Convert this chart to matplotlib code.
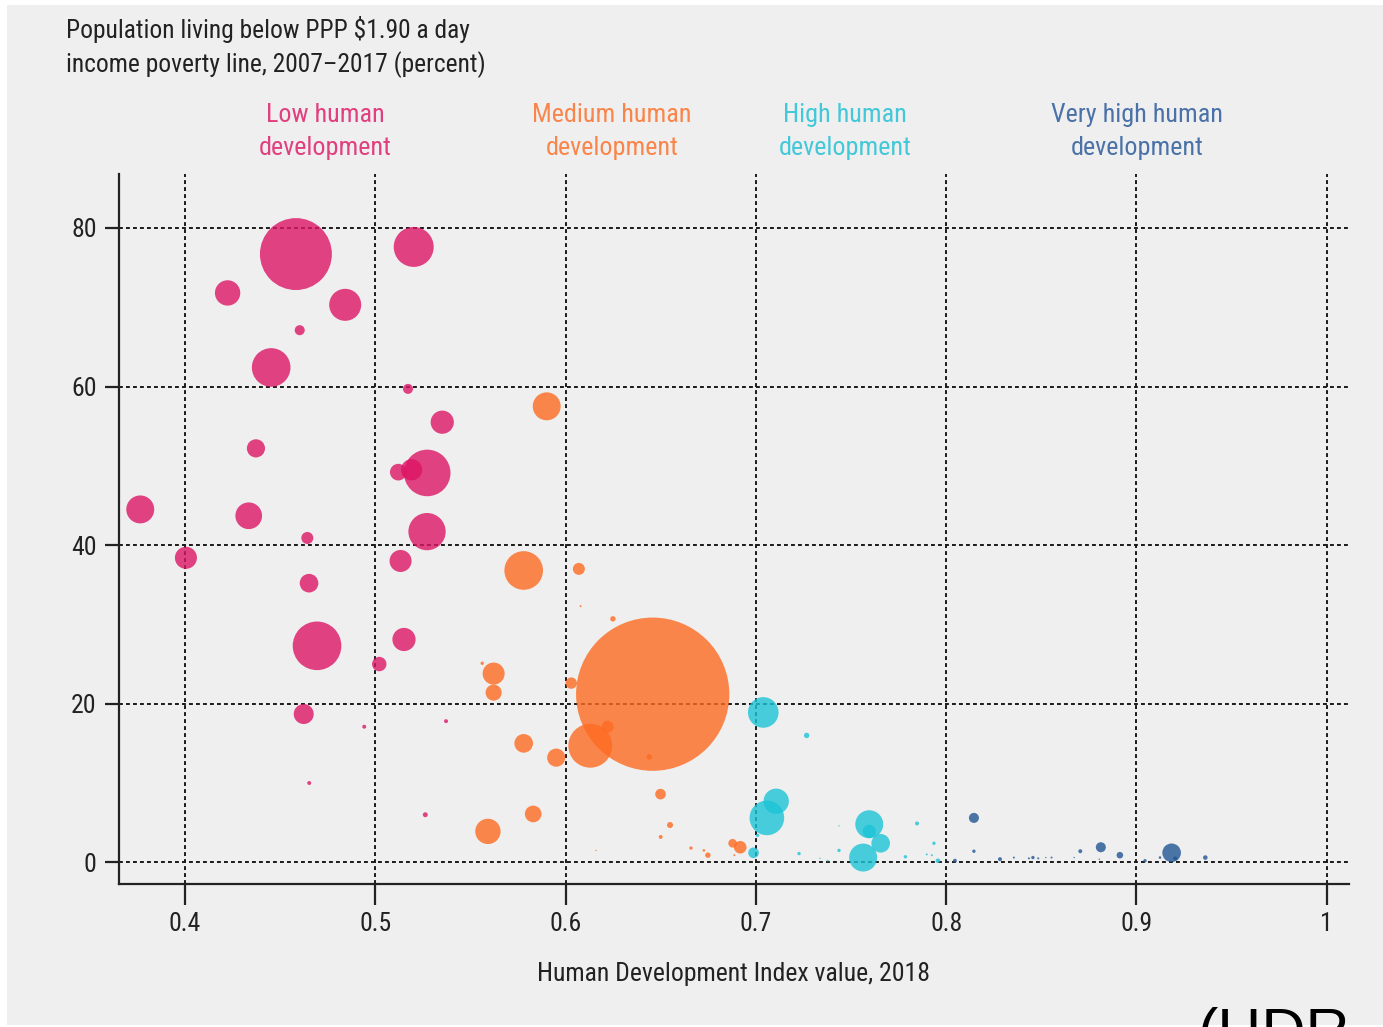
import matplotlib
matplotlib.use("Agg")
import matplotlib.pyplot as plt
import matplotlib.transforms as mtransforms
from matplotlib.patches import Rectangle
from matplotlib import font_manager

# condensed face if one is present, otherwise Roboto
names = set(f.name for f in font_manager.fontManager.ttflist)
narrow = [n for n in ['Roboto Condensed', 'Liberation Sans Narrow', 'Open Sans Condensed',
                      'Noto Sans Condensed', 'DejaVu Sans Condensed', 'Roboto'] if n in names]
plt.rcParams['font.family'] = narrow[:1] + ['DejaVu Sans']

# HDI value (x), poverty rate % (y), population weight (bubble area)
low_hdi = [0.4583, 0.5202, 0.4224, 0.4842, 0.4603, 0.4453, 0.5172, 0.5352, 0.4373,
           0.5273, 0.5121, 0.5191, 0.3765, 0.4335, 0.4643, 0.5272, 0.4005, 0.5133,
           0.4652, 0.5151, 0.4694, 0.5021, 0.5372, 0.4942, 0.4624, 0.4653, 0.5263]
low_pov = [76.7, 77.6, 71.8, 70.3, 67.1, 62.4, 59.7, 55.5, 52.2,
           49.1, 49.2, 49.5, 44.5, 43.7, 40.9, 41.7, 38.4, 38.0,
           35.2, 28.1, 27.3, 25.0, 17.8, 17.1, 18.7, 10.0, 6.0]
low_pop = [298, 92, 37, 59, 5.8, 86, 5.8, 31, 19,
           125, 16, 26, 45, 41, 8.3, 80, 28, 28,
           20, 31, 136, 12, 0.9, 0.9, 23, 0.9, 1.4]

med_hdi = [0.5901, 0.5780, 0.6070, 0.6079, 0.6249, 0.6458, 0.5562, 0.5622, 0.5622,
           0.6030, 0.6221, 0.6130, 0.5780, 0.5951, 0.6440, 0.6499, 0.5830, 0.5592,
           0.6549, 0.6500, 0.6160, 0.6659, 0.6727, 0.6748, 0.6878, 0.6918, 0.6887]
med_pov = [57.5, 36.8, 37.0, 32.3, 30.7, 21.2, 25.1, 23.8, 21.4,
           22.6, 17.1, 14.7, 15.0, 13.2, 13.3, 8.6, 6.1, 3.9,
           4.7, 3.2, 1.5, 1.8, 1.5, 0.9, 2.4, 1.9, 0.9]
med_pop = [45, 86, 8.3, 0.23, 1.7, 1353, 0.66, 28, 15,
           7.5, 8.3, 111, 20, 19, 1.7, 6.5, 16, 37,
           2.1, 0.9, 0.11, 0.66, 0.39, 1.7, 4.3, 9.1, 0.23]

high_hdi = [0.7039, 0.7267, 0.7107, 0.7058, 0.7009, 0.6988, 0.7596, 0.7596, 0.7656,
            0.7564, 0.7847, 0.7936, 0.7786, 0.7957, 0.7437, 0.7437, 0.7227, 0.7337,
            0.7377, 0.7898, 0.7925]
high_pov = [18.9, 16.0, 7.7, 5.6, 3.4, 1.2, 4.8, 3.9, 2.4,
            0.6, 4.9, 2.4, 0.7, 0.2, 1.5, 4.6, 1.1, 0.5,
            0.2, 1.0, 0.9]
high_pop = [54, 1.7, 37, 69, 0.66, 6.5, 45, 10, 20,
            45, 0.9, 0.66, 0.66, 1.2, 0.66, 0.11, 0.66, 0.11,
            0.23, 0.23, 0.23]

vhigh_hdi = [0.8146, 0.8146, 0.8046, 0.8283, 0.8356, 0.8435, 0.8456, 0.8484, 0.8524,
             0.8554, 0.8673, 0.8705, 0.8805, 0.8813, 0.8913, 0.9045, 0.9124, 0.9185,
             0.9204, 0.9362]
vhigh_pov = [5.6, 1.4, 0.2, 0.4, 0.6, 0.5, 0.6, 0.5, 0.6,
             0.6, 0.6, 1.4, 0.4, 1.9, 0.9, 0.2, 0.6, 1.2,
             0.5, 0.6]
vhigh_pop = [5.8, 0.66, 0.9, 0.9, 0.23, 0.23, 0.66, 0.23, 0.11,
             0.23, 0.11, 0.9, 0.11, 5.8, 2.5, 0.66, 0.39, 20,
             0.9, 1.2]

group_labels = ['Low human\ndevelopment', 'Medium human\ndevelopment',
                'High human\ndevelopment', 'Very high human\ndevelopment']
group_label_x = [0.4736, 0.6244, 0.7468, 0.9003]

x_ticks = [0.4, 0.5, 0.6, 0.7, 0.8, 0.9, 1.0]
x_tick_labels = ['0.4', '0.5', '0.6', '0.7', '0.8', '0.9', '1']
y_ticks = [0, 20, 40, 60, 80]

bubble_colors = ['#dd1565', '#fd6b21', '#1cc4d5', '#1f5593']
text_colors = ['#e0407f', '#f9854a', '#42c8d8', '#4a72a8']
bg = '#efefef'

fig = plt.figure(figsize=(13.83, 10.27), dpi=100, facecolor='white')
fig.patches.append(Rectangle((0.005, 0.002), 0.995, 0.993, transform=fig.transFigure,
                             facecolor=bg, edgecolor='none', zorder=-10))
ax = fig.add_axes([0.0860, 0.1392, 0.8894, 0.6914])
ax.set_facecolor(bg)

series = [(low_hdi, low_pov, low_pop), (med_hdi, med_pov, med_pop),
          (high_hdi, high_pov, high_pop), (vhigh_hdi, vhigh_pov, vhigh_pop)]
scale = 9.0
for (xs, ys, ps), c in zip(series, bubble_colors):
    ax.scatter(xs, ys, s=[p * scale for p in ps], color=c, alpha=0.8,
               linewidths=0, zorder=3)

ax.set_xlim(0.3653, 1.0117)
ax.set_ylim(-2.74, 86.8)
ax.set_xticks(x_ticks)
ax.set_xticklabels(x_tick_labels)
ax.set_yticks(y_ticks)

# dotted grid
ax.grid(True, color='#1a1a1a', linestyle=(0, (2.0, 1.6)), linewidth=1.4, zorder=1)
ax.set_axisbelow(True)

for side in ['top', 'right']:
    ax.spines[side].set_visible(False)
for side in ['left', 'bottom']:
    ax.spines[side].set_linewidth(1.6)
    ax.spines[side].set_color('#222222')

ax.tick_params(axis='y', length=10, width=1.6, color='#222222', pad=6,
               labelsize=18.5, labelcolor='#222222')
ax.tick_params(axis='x', length=15, width=1.6, color='#222222', pad=5,
               labelsize=18.5, labelcolor='#222222')

ax.set_xlabel('Human Development Index value, 2018', fontsize=18.5,
              color='#222222', labelpad=19)

# group labels above the plot
trans = mtransforms.blended_transform_factory(ax.transData, fig.transFigure)
for lbl, lx, tc in zip(group_labels, group_label_x, text_colors):
    ax.text(lx, 0.872, lbl, transform=trans, ha='center', va='center',
            multialignment='center', fontsize=18.8, color=tc, linespacing=1.5)

fig.text(0.0477, 0.984, 'Population living below PPP $1.90 a day\n'
         'income poverty line, 2007\u20132017 (percent)',
         ha='left', va='top', fontsize=18.4, color='#222222', linespacing=1.38)

fig.text(0.8655, -0.0234, '(HDR', ha='left', va='baseline', fontsize=44,
         color='black', family=['Liberation Sans', 'DejaVu Sans'])

fig.savefig('out.png', dpi=100, facecolor='white')
